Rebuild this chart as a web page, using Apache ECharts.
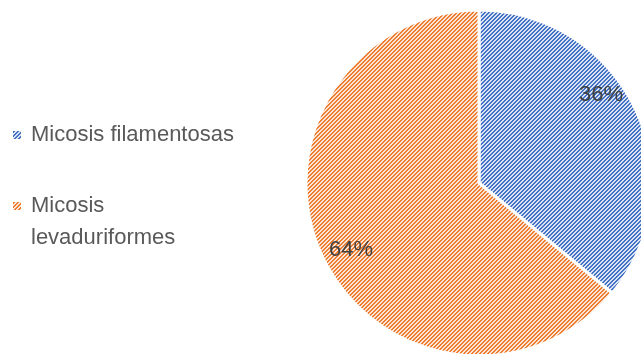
<!DOCTYPE html>
<html>
<head>
<meta charset="utf-8">
<script src="https://cdn.jsdelivr.net/npm/echarts@6/dist/echarts.min.js"></script>
<style>
html,body{margin:0;padding:0;background:#fff;}
#chart{width:641px;height:354px;}
</style>
</head>
<body>
<div id="chart"></div>
<script>
const categories = ['Micosis filamentosas', 'Micosis levaduriformes'];
const values = [36, 64];
const legendLabels = ['Micosis filamentosas', ' \nMicosis\nlevaduriformes'];

const FONT = '"Liberation Sans", Arial, sans-serif';
const fills = [
  {base: '#dae3f3', line: '#4472c4'},
  {base: '#fbe5d6', line: '#ed7d31'}
];

function hatch(base, line) {
  const c = document.createElement('canvas');
  c.width = 4; c.height = 4;
  const ctx = c.getContext('2d');
  ctx.fillStyle = base;
  ctx.fillRect(0, 0, 4, 4);
  ctx.fillStyle = line;
  for (let y = 0; y < 4; y++) {
    for (let x = 0; x < 4; x++) {
      if ((x + y) % 4 < 2) ctx.fillRect(x, y, 1, 1);
    }
  }
  return {image: c, repeat: 'repeat'};
}

const chart = echarts.init(document.getElementById('chart'), null, {renderer: 'canvas'});

const legendCommon = {
  orient: 'vertical',
  icon: 'rect',
  itemWidth: 8,
  itemHeight: 8,
  selectedMode: false,
  left: 13,
  padding: 0,
  itemStyle: {borderWidth: 0},
  textStyle: {fontFamily: FONT, fontSize: 22, color: '#595959', lineHeight: 32, padding: [0, 0, 0, 5]}
};

chart.setOption({
  animation: false,
  legend: [
    Object.assign({}, legendCommon, {
      top: 119,
      data: [categories[0]],
      formatter: () => legendLabels[0]
    }),
    Object.assign({}, legendCommon, {
      top: 158,
      data: [categories[1]],
      formatter: () => legendLabels[1]
    })
  ],
  series: [{
    type: 'pie',
    center: [479, 183],
    radius: 173,
    startAngle: 90,
    clockwise: true,
    data: categories.map((name, i) => ({
      name: name,
      value: values[i],
      itemStyle: {color: hatch(fills[i].base, fills[i].line)}
    })),
    itemStyle: {borderColor: '#ffffff', borderWidth: 3},
    label: {
      show: true,
      position: 'inside',
      formatter: p => p.value + '%',
      fontFamily: FONT,
      fontSize: 22,
      color: '#404040'
    },
    labelLine: {show: false},
    labelLayout: function (params) {
      if (params.dataIndex === 0) return {dx: 41, dy: -50};
      return {dx: -47, dy: 29};
    }
  }]
});
</script>
</body>
</html>
